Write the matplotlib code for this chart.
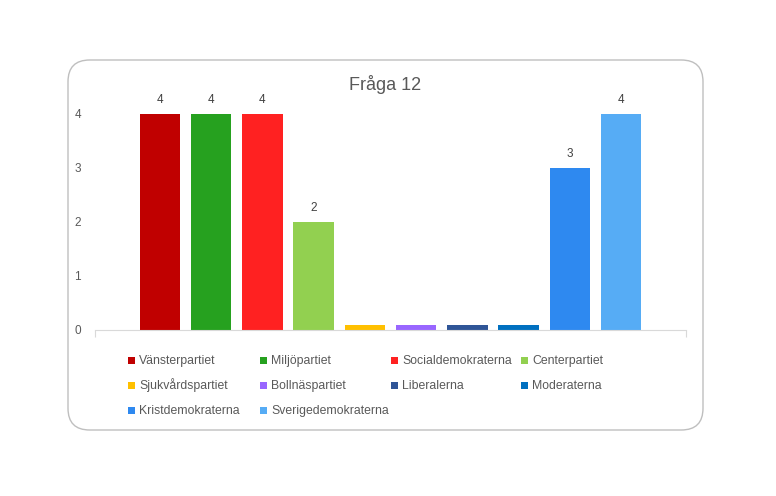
import matplotlib.pyplot as plt
from matplotlib.patches import FancyBboxPatch, Rectangle

plt.rcParams['font.family'] = ['Liberation Sans', 'DejaVu Sans']

title = "Fråga 12"
parties = ["Vänsterpartiet", "Miljöpartiet", "Socialdemokraterna", "Centerpartiet",
           "Sjukvårdspartiet", "Bollnäspartiet", "Liberalerna", "Moderaterna",
           "Kristdemokraterna", "Sverigedemokraterna"]
values = [4, 4, 4, 2, 0.1, 0.1, 0.1, 0.1, 3, 4]
value_labels = ["4", "4", "4", "2", "", "", "", "", "3", "4"]
colors = ["#C00000", "#26A11F", "#FF2121", "#92D050", "#FFC000",
          "#9966FF", "#2F5597", "#0070C0", "#2E89F0", "#56ACF5"]
yticks = [0, 1, 2, 3, 4]

W, H = 776, 496
fig = plt.figure(figsize=(W / 100, H / 100), dpi=100)

# rounded chart border, behind the axes
box = FancyBboxPatch((68 / W, 1 - 430 / H), (703 - 68) / W, (430 - 60) / H,
                     boxstyle="round,pad=0,rounding_size=0.028",
                     transform=fig.transFigure, facecolor="white",
                     edgecolor="#BFBFBF", linewidth=1.0, mutation_aspect=W / H,
                     zorder=-5)
fig.patches.append(box)

ax = fig.add_axes([95 / W, 1 - 330 / H, (686 - 95) / W, (330 - 114) / H])
ax.set_zorder(2)
ax.set_facecolor("none")
x = list(range(len(parties)))
bars = ax.bar(x, values, width=0.79, color=colors)
ax.set_xlim(-1.27, 10.27)
ax.set_ylim(0, 4)

for b, lab in zip(bars, value_labels):
    if lab:
        ax.annotate(lab, (b.get_x() + b.get_width() / 2, b.get_height()),
                    xytext=(0, 6), textcoords="offset points", ha="center",
                    va="bottom", fontsize=8.5, color="#404040", annotation_clip=False)

for s in ["top", "right", "left"]:
    ax.spines[s].set_visible(False)
ax.spines["bottom"].set_color("#D9D9D9")
ax.set_xticks([-1.27, 10.27])
ax.set_xticklabels([])
ax.tick_params(axis="x", length=5, color="#D9D9D9", direction="out")
ax.set_yticks(yticks)
ax.tick_params(axis="y", length=0, pad=10, labelsize=8.5, labelcolor="#595959")

fig.text(385 / W, 1 - 84 / H, title, ha="center", va="center",
         fontsize=13, color="#595959")

# legend laid out like Excel: 4 fixed-width columns, filled row by row
col_x = [128, 260, 391, 521]
row_y = [360, 385, 410]
for i, (name, c) in enumerate(zip(parties, colors)):
    cx = col_x[i % 4]
    cy = row_y[i // 4]
    fig.patches.append(Rectangle((cx / W, 1 - (cy + 3.5) / H), 7 / W, 7 / H,
                                 transform=fig.transFigure, facecolor=c,
                                 edgecolor="none", zorder=3))
    fig.text((cx + 11) / W, 1 - (cy + 4) / H, name, ha="left", va="baseline",
             fontsize=8.8, color="#595959")

fig.savefig("out.png", dpi=100)
